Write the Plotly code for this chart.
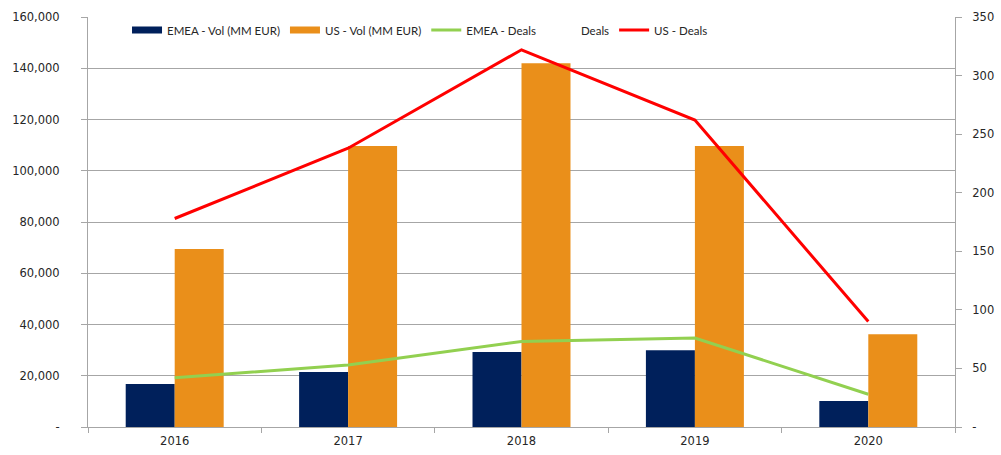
import plotly.graph_objects as go

years = ["2016", "2017", "2018", "2019", "2020"]
emea_vol = [16800, 21500, 29300, 30000, 10100]
us_vol = [69500, 109700, 142000, 109700, 36200]
emea_deals = [42, 53, 73, 76, 28]
us_deals = [178, 238, 322, 262, 90]

left_ticks = [0, 20000, 40000, 60000, 80000, 100000, 120000, 140000, 160000]
left_text = ["-", "20,000", "40,000", "60,000", "80,000", "100,000", "120,000", "140,000", "160,000"]
right_ticks = [0, 50, 100, 150, 200, 250, 300, 350]
right_text = ["-", "50", "100", "150", "200", "250", "300", "350"]

NAVY = "#00205B"
ORANGE = "#EA8F1A"
GREEN = "#92D050"
RED = "#FF0000"
GRID = "#A6A6A6"
TXT = "#262626"

fig = go.Figure()
fig.add_trace(go.Bar(x=years, y=emea_vol, name="EMEA - Vol (MM EUR)", showlegend=False,
                     marker=dict(color=NAVY, line=dict(width=0))))
fig.add_trace(go.Bar(x=years, y=us_vol, name="US - Vol (MM EUR)", showlegend=False,
                     marker=dict(color=ORANGE, line=dict(width=0))))
fig.add_trace(go.Scatter(x=years, y=emea_deals, name="EMEA - Deals", mode="lines", showlegend=False,
                         line=dict(color=GREEN, width=3), yaxis="y2"))
fig.add_trace(go.Scatter(x=years, y=us_deals, name="US - Deals", mode="lines", showlegend=False,
                         line=dict(color=RED, width=3), yaxis="y2"))

# legend-only entries (Excel-style wide rectangles for bars)
legend_items = [
    ("EMEA - Vol (MM EUR)", NAVY, 7),
    ("US - Vol (MM EUR)", ORANGE, 7),
    ("EMEA - Deals", GREEN, 3),
    ("Deals", "rgba(0,0,0,0)", 3),
    ("US - Deals", RED, 3),
]
for name, col, w in legend_items:
    fig.add_trace(go.Scatter(x=[None], y=[None], name=name, mode="lines",
                             line=dict(color=col, width=w), yaxis="y2", hoverinfo="skip"))

fig.update_layout(
    width=1001, height=455,
    margin=dict(l=88, r=46, t=17, b=28, autoexpand=False),
    paper_bgcolor="white", plot_bgcolor="white",
    barmode="group", bargap=0.435, bargroupgap=0,
    font=dict(family="DejaVu Sans", size=11.5, color=TXT),
    showlegend=True,
    legend=dict(orientation="h", x=0.045, xanchor="left", y=0.968, yanchor="middle",
                bgcolor="rgba(0,0,0,0)", traceorder="normal",
                font=dict(family="Lato", size=11.5, color=TXT),
                itemwidth=30, tracegroupgap=0),
    xaxis=dict(type="category", showgrid=False, showline=True, linecolor=GRID, linewidth=1,
               ticks="outside", tickson="boundaries", ticklen=5, tickcolor=GRID,
               tickfont=dict(size=11.5), ticklabelstandoff=3, automargin=False),
    yaxis=dict(range=[0, 160000], tickvals=left_ticks, ticktext=left_text,
               showgrid=True, gridcolor=GRID, gridwidth=1, showline=True, linecolor=GRID,
               ticks="outside", ticklen=6, tickcolor=GRID, zeroline=False, ticklabelstandoff=19,
               automargin=False),
    yaxis2=dict(range=[0, 350], tickvals=right_ticks, ticktext=right_text, overlaying="y",
                side="right", showgrid=False, showline=True, linecolor=GRID,
                ticks="outside", ticklen=6, tickcolor=GRID, zeroline=False, ticklabelstandoff=8,
                automargin=False),
)

fig.write_html("out.html", config={"displayModeBar": False},
               post_script="document.body.style.margin='0';document.body.style.overflow='hidden';")
